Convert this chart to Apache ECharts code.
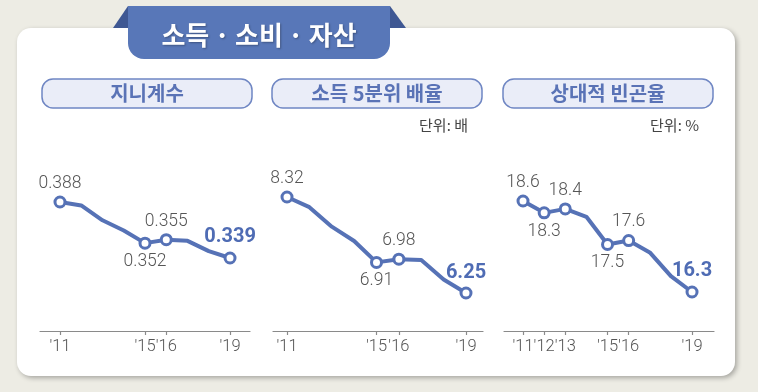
<!DOCTYPE html>
<html><head><meta charset="utf-8">
<script src="https://cdn.jsdelivr.net/npm/echarts@6/dist/echarts.min.js"></script>
<style>html,body{margin:0;padding:0;background:#edece4}#c{width:758px;height:392px}</style>
</head><body><div id="c"></div>
<script>
// ---- data ----
const years = [2011, 2012, 2013, 2014, 2015, 2016, 2017, 2018, 2019];
const gini = [0.388, 0.385, 0.372, 0.363, 0.352, 0.355, 0.354, 0.345, 0.339];
const quintile = [8.32, 8.10, 7.68, 7.37, 6.91, 6.98, 6.96, 6.54, 6.25];
const poverty = [18.6, 18.3, 18.4, 18.2, 17.5, 17.6, 17.3, 16.7, 16.3];
const ticks1 = [2011, 2015, 2016, 2019];
const ticks2 = [2011, 2015, 2016, 2019];
const ticks3 = [2011, 2012, 2013, 2015, 2016, 2019];
const marked1 = [2011, 2015, 2016, 2019];
const marked2 = [2011, 2015, 2016, 2019];
const marked3 = [2011, 2012, 2013, 2015, 2016, 2019];
const below1 = [2015];
const below2 = [2015];
const below3 = [2012, 2015];
const titleMain = '소득\u2009·\u2009소비\u2009·\u2009자산';
const panelTitles = ['지니계수', '소득 5분위 배율', '상대적 빈곤율'];
const units = ['', '단위: 배', '단위: %'];

// ---- styling ----
const BLUE = '#5672b6';
const numFont = 'Roboto';
const korFont = '"Noto Sans CJK KR", "Noto Sans", sans-serif';

function buildData(vals, marked, below) {
  const last = years[years.length - 1];
  return years.map((y, i) => {
    if (marked.indexOf(y) < 0) return { value: [y, vals[i]], symbol: 'none' };
    const isLast = y === last;
    const isBelow = below.indexOf(y) >= 0;
    return {
      value: [y, vals[i]],
      symbol: 'circle',
      label: {
        show: true,
        position: isBelow ? 'bottom' : 'top',
        distance: isLast ? 4 : 3,
        formatter: () => String(vals[i]),
        fontFamily: numFont,
        fontSize: isLast ? 20 : 17.5,
        fontWeight: isLast ? 'bold' : 300,
        color: isLast ? '#4f6cb4' : '#555555'
      }
    };
  });
}

const grids = [
  { left: 40, width: 210, top: 150, height: 181 },
  { left: 273, width: 210, top: 150, height: 181 },
  { left: 504, width: 210, top: 150, height: 181 }
];
const xRanges = [[2010.06, 2019.94], [2010.374, 2019.76], [2010.1, 2020.04]];
const yRanges = [[0.2751, 0.4335], [5.431, 9.333], [15.314, 19.889]];
const tickSets = [ticks1, ticks2, ticks3];

const xAxes = tickSets.map((t, i) => ({
  type: 'value', gridIndex: i, min: xRanges[i][0], max: xRanges[i][1],
  splitLine: { show: false },
  axisLine: { show: true, lineStyle: { color: '#8a8a8a', width: 1.2 } },
  axisTick: { show: true, customValues: t, length: 4, inside: false, lineStyle: { color: '#8a8a8a', width: 1.2 } },
  axisLabel: { customValues: t, hideOverlap: false, formatter: v => "'" + String(Math.round(v)).slice(2), fontFamily: numFont, fontWeight: 300, fontSize: 16.5, color: '#555', margin: 7 }
}));
const yAxes = yRanges.map((r, i) => ({ type: 'value', gridIndex: i, min: r[0], max: r[1], show: false, splitLine: { show: false } }));

const seriesVals = [gini, quintile, poverty];
const markedSets = [marked1, marked2, marked3];
const belowSets = [below1, below2, below3];
const series = seriesVals.map((v, i) => ({
  type: 'line', xAxisIndex: i, yAxisIndex: i,
  data: buildData(v, markedSets[i], belowSets[i]),
  symbolSize: 10,
  lineStyle: { color: BLUE, width: 4, cap: 'round', join: 'round' },
  itemStyle: { color: '#ffffff', borderColor: BLUE, borderWidth: 3 },
  z: 3, animation: false
}));

const pillX = [42, 272, 503];
const graphics = [
  { type: 'rect', shape: { x: 17, y: 28, width: 718, height: 348, r: 14 }, style: { fill: '#ffffff', shadowBlur: 5, shadowColor: 'rgba(0,0,0,0.3)', shadowOffsetX: 2, shadowOffsetY: 2 }, z: 0 },
  { type: 'polygon', shape: { points: [[113, 28], [128, 6], [128, 28]] }, style: { fill: '#3f5893' }, z: 1 },
  { type: 'polygon', shape: { points: [[390, 6], [406, 28], [390, 28]] }, style: { fill: '#3f5893' }, z: 1 },
  { type: 'rect', shape: { x: 128, y: 6, width: 262, height: 53, r: [0, 0, 16, 16] }, style: { fill: '#5877b8' }, z: 2 },
  { type: 'text', x: 259, y: 35, style: { text: titleMain, fill: '#ffffff', font: 'bold 26px ' + korFont, align: 'center', verticalAlign: 'middle', textShadowColor: 'rgba(0,0,0,0.3)', textShadowBlur: 2, textShadowOffsetX: 1, textShadowOffsetY: 1 }, z: 3 }
];
panelTitles.forEach((t, i) => {
  graphics.push({ type: 'rect', shape: { x: pillX[i], y: 79, width: 210, height: 29, r: 11 }, style: { fill: '#eaedf8', stroke: '#6f86c3', lineWidth: 1.5 }, z: 1 });
  graphics.push({ type: 'text', x: pillX[i] + 105, y: 93.5, style: { text: t, fill: '#5a73b6', font: 'bold 20px ' + korFont, align: 'center', verticalAlign: 'middle' }, z: 2 });
  if (units[i]) graphics.push({ type: 'text', x: pillX[i] + 196, y: 125, style: { text: units[i], fill: '#444', font: '15px ' + korFont, align: 'right', verticalAlign: 'middle' }, z: 2 });
});

const chart = echarts.init(document.getElementById('c'), null, { renderer: 'canvas' });
chart.setOption({
  backgroundColor: '#edece4',
  animation: false,
  grid: grids,
  xAxis: xAxes,
  yAxis: yAxes,
  series: series,
  graphic: graphics
});
</script></body></html>
